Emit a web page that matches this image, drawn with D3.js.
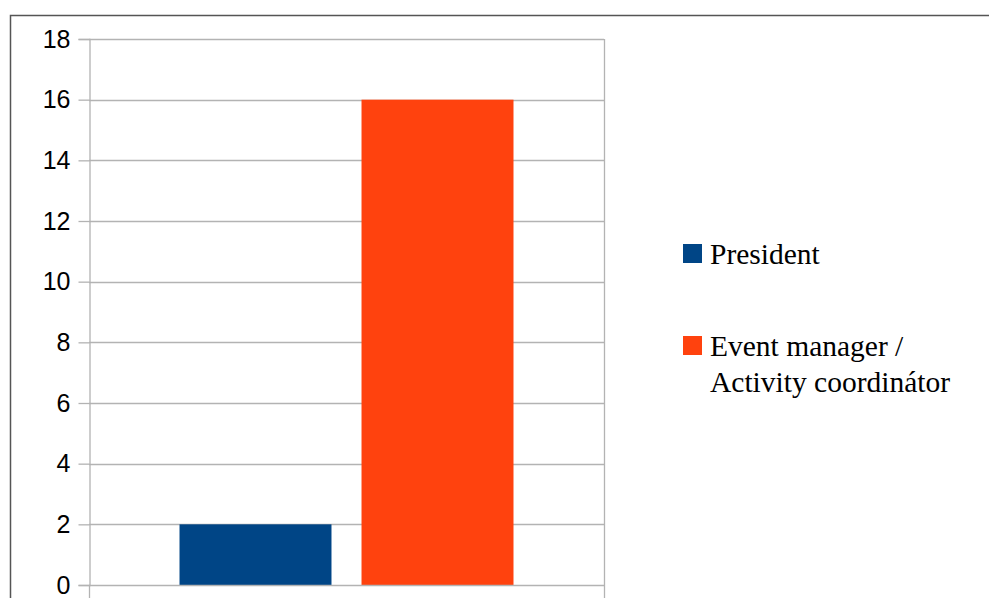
<!DOCTYPE html>
<html>
<head>
<meta charset="utf-8">
<script src="https://cdn.jsdelivr.net/npm/d3@7"></script>
<style>
  body { margin: 0; background: #fff; }
  svg { display: block; }
</style>
</head>
<body>
<script>
// chart data
var categories = [""];
var seriesNames = ["President", "Event manager / Activity coordinátor"];
var seriesValues = [2, 16];
var seriesColors = ["#004586", "#ff420e"];
var yTicks = [0, 2, 4, 6, 8, 10, 12, 14, 16, 18];

var width = 989,
    height = 598;

var plot = { left: 89, right: 604, top: 39, bottom: 585 };

var svg = d3.select("body")
    .append("svg")
    .attr("width", width)
    .attr("height", height);

// outer chart frame
svg.append("rect")
    .attr("x", 10.5)
    .attr("y", 15.5)
    .attr("width", 1000)
    .attr("height", 700)
    .attr("fill", "#fff")
    .attr("stroke", "#555")
    .attr("stroke-width", 1.5);

var y = d3.scaleLinear()
    .domain([0, 18])
    .range([plot.bottom, plot.top]);

var x0 = d3.scaleBand()
    .domain(categories)
    .range([plot.left, plot.right])
    .paddingInner(0)
    .paddingOuter(0.271);

var x1 = d3.scaleBand()
    .domain(seriesNames)
    .range([0, x0.bandwidth()])
    .paddingInner(0.165)
    .paddingOuter(0);

// horizontal gridlines
svg.append("g")
    .selectAll("line")
    .data(yTicks.filter(function(d){ return d > 0; }))
    .enter()
    .append("line")
    .attr("x1", plot.left)
    .attr("x2", plot.right)
    .attr("y1", function(d){ return Math.round(y(d)) + 0.5; })
    .attr("y2", function(d){ return Math.round(y(d)) + 0.5; })
    .attr("stroke", "#b3b3b3")
    .attr("stroke-width", 1.3);

// right edge of plot
svg.append("line")
    .attr("x1", plot.right + 0.5)
    .attr("x2", plot.right + 0.5)
    .attr("y1", plot.top)
    .attr("y2", plot.bottom)
    .attr("stroke", "#b3b3b3")
    .attr("stroke-width", 1.3);

// bars
svg.append("g")
    .selectAll("rect")
    .data(seriesValues)
    .enter()
    .append("rect")
    .attr("x", function(d, i){ return x0(categories[0]) + x1(seriesNames[i]); })
    .attr("y", function(d){ return y(d); })
    .attr("width", x1.bandwidth())
    .attr("height", function(d){ return y(0) - y(d); })
    .attr("fill", function(d, i){ return seriesColors[i]; });

// y axis
var yAxis = svg.append("g")
    .attr("transform", "translate(" + (plot.left + 0.5) + ",0)")
    .call(d3.axisLeft(y).tickValues(yTicks).tickSize(11).tickPadding(8));

yAxis.select(".domain").attr("stroke", "#b3b3b3").attr("stroke-width", 1.3);
yAxis.selectAll(".tick line").attr("stroke", "#b3b3b3").attr("stroke-width", 1.3);
yAxis.selectAll(".tick text")
    .attr("fill", "#000")
    .style("font-family", "'Liberation Sans', Arial, sans-serif")
    .style("font-size", "25px");

// x axis line and category boundary ticks
svg.append("line")
    .attr("x1", plot.left)
    .attr("x2", plot.right + 1)
    .attr("y1", plot.bottom + 0.5)
    .attr("y2", plot.bottom + 0.5)
    .attr("stroke", "#b3b3b3")
    .attr("stroke-width", 1.3);

svg.append("g")
    .selectAll("line")
    .data(x0.range())
    .enter()
    .append("line")
    .attr("x1", function(d){ return d + 0.5; })
    .attr("x2", function(d){ return d + 0.5; })
    .attr("y1", plot.bottom)
    .attr("y2", plot.bottom + 14)
    .attr("stroke", "#b3b3b3")
    .attr("stroke-width", 1.3);

// legend
var legendItems = [
    { name: "President", lines: ["President"], color: seriesColors[0], top: 244 },
    { name: "Event manager / Activity coordinátor", lines: ["Event manager /", "Activity coordinátor"], color: seriesColors[1], top: 336 }
];

var legend = svg.append("g");

legend.selectAll("rect")
    .data(legendItems)
    .enter()
    .append("rect")
    .attr("x", 683)
    .attr("y", function(d){ return d.top; })
    .attr("width", 19)
    .attr("height", 19)
    .attr("fill", function(d){ return d.color; });

legend.selectAll("text")
    .data(legendItems)
    .enter()
    .append("text")
    .attr("x", 710)
    .attr("y", function(d){ return d.top + 20; })
    .style("font-family", "'Liberation Serif', 'Times New Roman', serif")
    .style("font-size", "29.5px")
    .attr("fill", "#000")
    .each(function(d){
        var t = d3.select(this);
        d.lines.forEach(function(line, i){
            t.append("tspan")
                .attr("x", 710)
                .attr("dy", i === 0 ? 0 : 36)
                .text(line);
        });
    });
</script>
</body>
</html>
